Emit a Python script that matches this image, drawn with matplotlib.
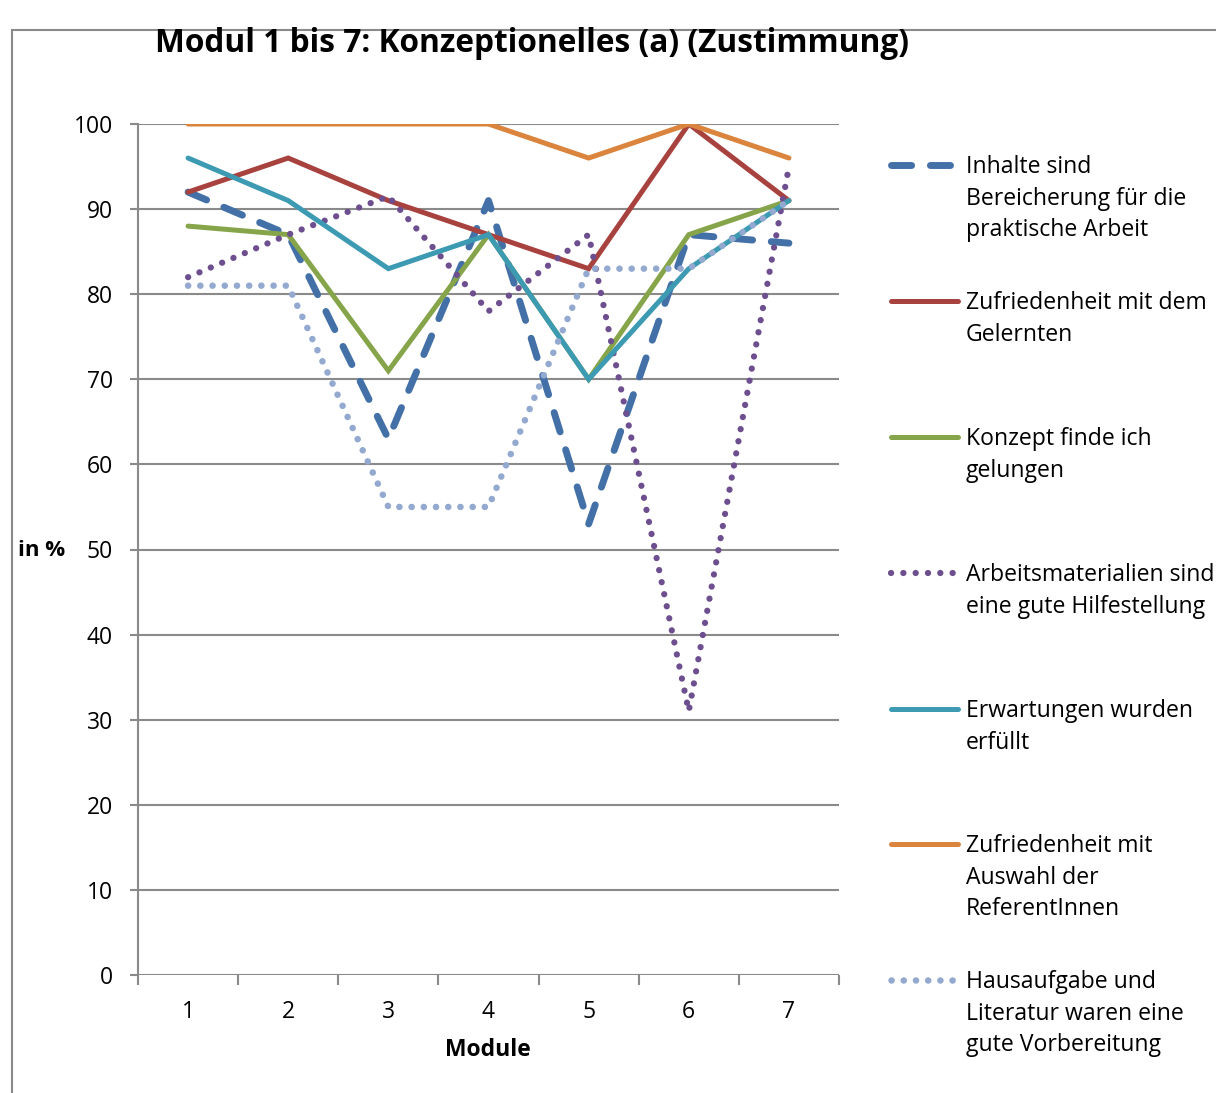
import matplotlib
matplotlib.use("Agg")
import matplotlib.pyplot as plt
from matplotlib.lines import Line2D
from matplotlib.patches import Rectangle

plt.rcParams['font.family'] = ['Open Sans', 'DejaVu Sans']

module = [1, 2, 3, 4, 5, 6, 7]

inhalte = [92, 87, 63, 91, 53, 87, 86]
gelernten = [92, 96, 91, 87, 83, 100, 91]
konzept = [88, 87, 71, 87, 70, 87, 91]
arbeitsmat = [82, 87, 91.5, 78, 87, 31, 95]
erwartungen = [96, 91, 83, 87, 70, 83, 91]
referenten = [100, 100, 100, 100, 96, 100, 96]
hausaufgabe = [81, 81, 55, 55, 83, 83, 91]

labels = [
    "Inhalte sind\nBereicherung für die\npraktische Arbeit",
    "Zufriedenheit mit dem\nGelernten",
    "Konzept finde ich\ngelungen",
    "Arbeitsmaterialien sind\neine gute Hilfestellung",
    "Erwartungen wurden\nerfüllt",
    "Zufriedenheit mit\nAuswahl der\nReferentInnen",
    "Hausaufgabe und\nLiteratur waren eine\ngute Vorbereitung",
]

W, H = 1216, 1093
fig = plt.figure(figsize=(W / 100, H / 100), dpi=100)
ax = fig.add_axes([138 / W, 1 - 975 / H, (839 - 138) / W, (975 - 124) / H])

# style per series: (data, colour, linewidth, dashes or None)
series = [
    (inhalte, '#4470A8', 5.0, (2.9, 2.7)),
    (gelernten, '#A8423F', 3.6, None),
    (konzept, '#86A44A', 3.6, None),
    (arbeitsmat, '#6D4E8E', 4.5, (0.02, 1.95)),
    (erwartungen, '#3C9AB2', 3.6, None),
    (referenten, '#DB843D', 3.6, None),
    (hausaufgabe, '#93A9CF', 4.7, (0.02, 1.85)),
]

handles = []
for data, col, lw, dash in series:
    if dash is None:
        ln, = ax.plot(module, data, color=col, lw=lw, solid_capstyle='round',
                      solid_joinstyle='miter', zorder=3)
    else:
        ln, = ax.plot(module, data, color=col, lw=lw, dashes=dash,
                      dash_capstyle='round', zorder=3)
    handles.append(ln)

ax.set_xlim(0.5, 7.5)
ax.set_ylim(0, 100)
ax.set_yticks(range(0, 101, 10))
ax.set_xticks(module)
ax.set_xticks([x + 0.5 for x in range(0, 8)], minor=True)
ax.yaxis.grid(True, color='#8a8a8a', lw=1.5, zorder=1)
ax.set_axisbelow(True)
for s in ['top', 'right', 'bottom']:
    ax.spines[s].set_visible(False)
ax.spines['left'].set_color('#8a8a8a')
ax.spines['left'].set_linewidth(1.5)
ax.tick_params(axis='y', length=6, width=1.5, color='#8a8a8a', labelsize=16.5, pad=12)
ax.tick_params(axis='x', which='major', length=0, labelsize=16.5, pad=18)
ax.tick_params(axis='x', which='minor', length=7, width=1.5, color='#8a8a8a')

fig.text(488 / W, 1 - 1050 / H, "Module", ha='center', va='center',
         fontsize=16.5, fontweight='bold')
fig.text(42 / W, 1 - 551 / H, "in %", ha='center', va='center',
         fontsize=16, fontweight='bold')
fig.text(532 / W, 1 - 44 / H, "Modul 1 bis 7: Konzeptionelles (a) (Zustimmung)",
         ha='center', va='center', fontsize=22.8, fontweight='bold')

# manual legend, evenly spaced like the original
leg_y = [165, 301, 437, 573, 709, 844, 980]
for h, lab, y in zip(handles, labels, leg_y):
    yf = 1 - y / H
    l = Line2D([891 / W, 958 / W], [yf, yf], transform=fig.transFigure,
               color=h.get_color(), lw=h.get_linewidth(),
               linestyle=h.get_linestyle(), dash_capstyle='round',
               solid_capstyle='round')
    if h.get_linestyle() != '-':
        l.set_dashes(h._unscaled_dash_pattern[1])
    fig.add_artist(l)
    fig.text(966 / W, 1 - (y - 10) / H, lab, ha='left', va='top',
             fontsize=16.6, linespacing=1.42)

# outer frame of the embedded chart
fig.add_artist(Rectangle((12 / W, -0.05), 1.1, 1 - 30 / H + 0.05,
                         transform=fig.transFigure, fill=False,
                         edgecolor='#8a8a8a', lw=1.5))

fig.savefig("out.png", dpi=100)
